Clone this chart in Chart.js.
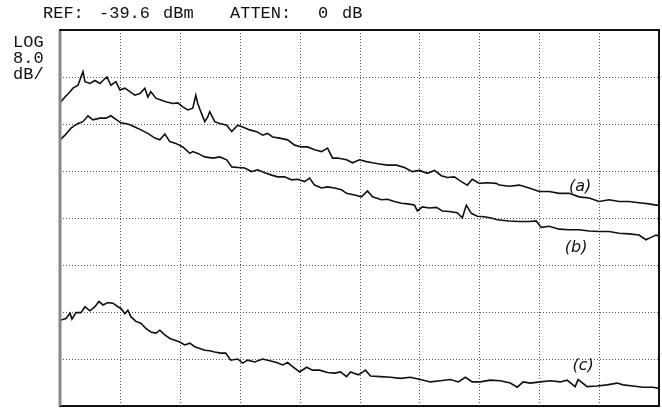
<!DOCTYPE html>
<html>
<head>
<meta charset="utf-8">
<script src="https://cdn.jsdelivr.net/npm/chart.js@4/dist/chart.umd.min.js"></script>
<style>
html,body{margin:0;padding:0;background:#fff;}
#wrap{width:662px;height:408px;position:relative;}
</style>
</head>
<body>
<div id="wrap"><canvas id="c" width="662" height="408"></canvas></div>
<script>
// ---- instrument settings ----
const refLevel = -39.6;   // dBm (top graticule line)
const attenDb = 0;
const dbPerDiv = 8.0;
const vDivs = 8;
const hDivs = 10;
const tracePoints = 600;  // trace index range 0..600

// ---- trace (a) ----
const idxA = [0,5,10,13,18,23,25,30,35,40,43,47,51,56,60,65,70,75,80,85,88,91,96,101,106,113,118,123,128,133,136,138,141,145,148,150,155,160,167,172,178,183,190,197,203,208,213,220,228,235,242,248,255,262,268,273,278,287,293,300,307,313,320,328,337,345,353,360,368,375,382,388,395,402,408,413,420,428,437,440,450,460,470,480,490,500,510,520,530,540,550,560,570,580,590,597,600];
const dbA = [-52.0,-51.0,-50.1,-49.5,-49.0,-46.7,-48.4,-48.7,-48.2,-48.7,-48.2,-47.6,-49.0,-48.4,-49.8,-49.5,-50.1,-50.7,-50.4,-49.5,-51.0,-50.1,-51.2,-51.5,-51.8,-52.1,-52.0,-52.7,-53.2,-52.9,-50.7,-52.1,-53.5,-55.2,-54.4,-53.5,-55.2,-55.5,-55.8,-56.9,-55.8,-56.1,-56.6,-56.9,-57.5,-57.2,-57.8,-58.0,-58.3,-59.2,-59.5,-59.5,-60.0,-60.3,-59.7,-61.4,-61.4,-61.7,-62.2,-61.7,-62.0,-62.2,-62.4,-62.6,-62.6,-63.0,-63.7,-63.5,-64.0,-63.5,-64.4,-64.7,-64.6,-65.4,-66.0,-65.0,-65.7,-65.6,-65.7,-66.0,-66.2,-66.0,-66.5,-67.1,-67.1,-67.4,-67.4,-68.0,-68.2,-68.8,-68.5,-68.8,-68.8,-69.0,-69.2,-69.4,-69.4];

// ---- trace (b) ----
const idxB = [0,5,11,18,23,28,33,40,46,51,56,61,68,75,81,88,95,100,105,110,116,123,130,133,138,145,153,160,167,172,178,185,192,198,205,212,218,225,232,238,245,250,255,262,268,275,282,287,295,302,308,313,322,328,335,342,348,355,358,363,370,377,383,390,398,403,407,412,418,425,432,438,450,460,470,477,482,490,500,510,520,530,540,550,560,570,580,587,592,597,600];
const dbB = [-58.3,-57.5,-56.3,-55.5,-55.2,-54.2,-54.9,-54.6,-54.6,-54.2,-54.8,-55.4,-55.6,-56.1,-56.6,-57.2,-58.0,-58.3,-57.3,-58.6,-58.9,-59.5,-60.6,-60.3,-60.6,-61.2,-61.4,-61.2,-61.7,-62.9,-63.0,-63.1,-63.7,-63.4,-63.9,-64.3,-64.6,-64.6,-65.1,-65.0,-65.4,-64.8,-66.0,-66.5,-66.3,-66.5,-66.8,-67.4,-67.7,-68.0,-67.0,-68.0,-68.5,-68.4,-68.8,-69.1,-69.2,-69.4,-70.4,-69.7,-69.9,-69.8,-70.4,-70.5,-70.7,-71.6,-69.4,-70.8,-71.3,-71.4,-71.6,-71.9,-72.1,-72.2,-72.2,-72.1,-73.2,-73.0,-73.5,-73.6,-73.6,-73.8,-73.9,-73.9,-74.2,-74.3,-74.5,-75.3,-74.9,-74.5,-74.7];

// ---- trace (c) ----
const idxC = [0,6,10,12,16,21,25,30,35,39,43,48,53,58,61,65,68,71,76,81,86,91,96,100,105,110,115,120,125,130,135,140,145,150,155,161,166,171,178,183,188,195,203,210,217,223,228,233,240,247,253,260,268,275,281,287,291,299,306,311,321,331,341,351,361,371,381,391,399,406,413,421,431,441,451,458,464,471,481,491,501,508,516,519,528,538,548,558,564,574,584,594,600];
const dbC = [-89.0,-88.7,-87.8,-88.8,-87.7,-87.7,-86.7,-87.4,-86.7,-85.8,-86.4,-86.0,-86.1,-86.7,-87.0,-87.9,-87.3,-88.4,-89.2,-89.5,-90.4,-91.0,-91.2,-90.7,-91.5,-92.1,-92.4,-92.7,-93.2,-92.9,-93.5,-93.8,-94.1,-94.2,-94.4,-94.6,-94.6,-95.8,-95.6,-96.3,-95.8,-96.1,-95.6,-95.9,-96.2,-96.6,-96.2,-96.9,-97.8,-97.0,-97.5,-97.5,-97.9,-98.0,-97.8,-98.6,-97.8,-98.3,-97.5,-98.5,-98.6,-98.7,-98.9,-98.7,-99.1,-99.5,-99.3,-99.1,-99.5,-98.7,-99.5,-99.5,-99.2,-99.3,-99.7,-100.4,-99.5,-99.7,-99.5,-99.3,-99.5,-99.2,-100.3,-99.1,-100.3,-100.2,-100.0,-99.7,-100.0,-100.2,-100.4,-100.4,-100.6];

// ---- trace annotations (anchor in trace index / dBm) ----
const noteText = ['(a)','(b)','(c)'];
const noteIdx  = [521, 517, 524];
const noteDb   = [-66.3, -76.7, -96.8];

const bottomLevel = refLevel - dbPerDiv * vDivs;
const toXY = (xs, ys) => xs.map((x, i) => ({x: x, y: ys[i]}));

const graticule = {
  id: 'graticule',
  beforeDatasetsDraw(chart) {
    const {ctx, chartArea: a, scales: {x, y}} = chart;
    ctx.save();
    ctx.strokeStyle = '#555';
    ctx.lineWidth = 1;
    ctx.setLineDash([1, 2]);
    for (let i = 1; i < hDivs; i++) {
      const px = Math.round(x.getPixelForValue(i * tracePoints / hDivs)) + 0.5;
      ctx.beginPath(); ctx.moveTo(px, a.top); ctx.lineTo(px, a.bottom); ctx.stroke();
    }
    for (let j = 1; j < vDivs; j++) {
      const py = Math.round(y.getPixelForValue(refLevel - j * dbPerDiv)) + 0.5;
      ctx.beginPath(); ctx.moveTo(a.left, py); ctx.lineTo(a.right, py); ctx.stroke();
    }
    ctx.setLineDash([]);
    ctx.restore();
  },
  afterDatasetsDraw(chart) {
    const {ctx, chartArea: a, scales: {x, y}} = chart;
    ctx.save();
    // frame
    ctx.strokeStyle = '#111';
    ctx.lineWidth = 2;
    ctx.strokeRect(a.left, a.top, a.right - a.left, a.bottom - a.top);
    ctx.strokeStyle = '#888';
    ctx.lineWidth = 3;
    ctx.beginPath(); ctx.moveTo(a.left, a.top + 1); ctx.lineTo(a.left, a.bottom); ctx.stroke();
    // header text
    ctx.fillStyle = '#111';
    ctx.font = '17px "Liberation Mono", "DejaVu Sans Mono", monospace';
    ctx.textBaseline = 'alphabetic';
    ctx.textAlign = 'left';
    ctx.fillText('REF:', 43, 18);
    ctx.fillText(refLevel.toFixed(1), 99, 18);
    ctx.fillText('dBm', 163, 18);
    ctx.fillText('ATTEN:', 230, 18);
    ctx.fillText(String(attenDb), 318, 18);
    ctx.fillText('dB', 342, 18);
    // left scale text
    ctx.fillText('LOG', 13, 47);
    ctx.fillText(dbPerDiv.toFixed(1), 13, 63);
    ctx.fillText('dB/', 13, 79);
    // trace notes
    ctx.font = 'italic 16px "DejaVu Sans", sans-serif';
    ctx.textAlign = 'center';
    ctx.textBaseline = 'middle';
    noteText.forEach((t, i) => {
      ctx.fillText(t, x.getPixelForValue(noteIdx[i]), y.getPixelForValue(noteDb[i]));
    });
    ctx.restore();
  }
};

const lineStyle = {borderColor: '#111', borderWidth: 1.6, pointRadius: 0, tension: 0, fill: false};

new Chart(document.getElementById('c'), {
  type: 'line',
  data: {
    datasets: [
      Object.assign({label: '(a)', data: toXY(idxA, dbA)}, lineStyle),
      Object.assign({label: '(b)', data: toXY(idxB, dbB)}, lineStyle),
      Object.assign({label: '(c)', data: toXY(idxC, dbC)}, lineStyle)
    ]
  },
  options: {
    responsive: false,
    animation: false,
    devicePixelRatio: 1,
    layout: {padding: {left: 60, top: 30, right: 3, bottom: 2}},
    plugins: {legend: {display: false}, tooltip: {enabled: false}},
    scales: {
      x: {type: 'linear', display: false, min: 0, max: tracePoints},
      y: {type: 'linear', display: false, min: bottomLevel, max: refLevel}
    }
  },
  plugins: [graticule]
});
</script>
</body>
</html>
